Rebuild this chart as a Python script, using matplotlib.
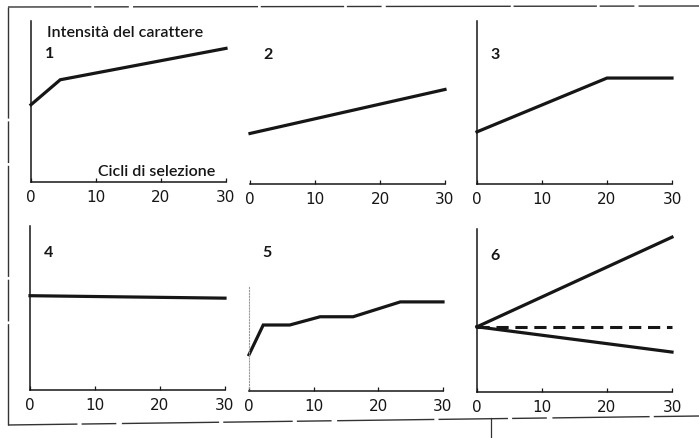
import matplotlib
matplotlib.use("Agg")
import matplotlib.pyplot as plt
from matplotlib.lines import Line2D

# ---- data (relative trait intensity, 0..10 scale) ----
cycles_ticks = [0, 10, 20, 30]
tick_labels = ["0", "10", "20", "30"]

p1_x = [0, 4.5, 30]
p1_y = [4.8, 6.35, 8.3]

p2_x = [0, 30]
p2_y = [3.1, 5.8]

p3_x = [0, 20, 30]
p3_y = [3.2, 6.5, 6.5]

p4_x = [0, 30]
p4_y = [5.75, 5.6]

p5_x = [0, 2.2, 6.3, 11.0, 16.1, 23.4, 30]
p5_y = [2.2, 4.0, 4.0, 4.5, 4.5, 5.4, 5.4]

p6_x = [0, 30]
p6_up = [4.0, 9.5]
p6_flat = [4.0, 4.0]
p6_down = [4.0, 2.45]

panel_labels = ["1", "2", "3", "4", "5", "6"]
ylabel_text = "Intensità del carattere"
xlabel_text = "Cicli di selezione"

W, H = 699, 439
fig = plt.figure(figsize=(W / 100, H / 100), dpi=100)
fig.patch.set_facecolor("white")

def add_ax(x0, x1, ybot, ytop):
    return fig.add_axes([x0 / W, (H - ybot) / H, (x1 - x0) / W, (ybot - ytop) / H])

boxes = [
    (31, 226, 183, 22),
    (250, 445, 185, 22),
    (477, 672, 185, 22),
    (30, 225, 391, 227),
    (249, 443, 392, 227),
    (477, 672, 393, 230),
]
series = [
    [(p1_x, p1_y, "-")],
    [(p2_x, p2_y, "-")],
    [(p3_x, p3_y, "-")],
    [(p4_x, p4_y, "-")],
    [(p5_x, p5_y, "-")],
    [(p6_x, p6_up, "-"), (p6_x, p6_flat, "--"), (p6_x, p6_down, "-")],
]

font = ["Lato", "DejaVu Sans"]
col = "#161616"

for i, (box, ser) in enumerate(zip(boxes, series)):
    ax = add_ax(*box)
    ax.set_xlim(0, 30)
    ax.set_ylim(0, 10)
    ax.patch.set_alpha(0)
    for s in ["top", "right"]:
        ax.spines[s].set_visible(False)
    ax.spines["bottom"].set_linewidth(1.1)
    ax.spines["bottom"].set_color(col)
    if i == 1:
        ax.spines["left"].set_visible(False)
    elif i == 4:
        ax.spines["left"].set_linestyle(":")
        ax.spines["left"].set_color("#999999")
        ax.spines["left"].set_linewidth(0.8)
        ax.spines["left"].set_bounds(0, 6.3)
    else:
        ax.spines["left"].set_linewidth(1.1)
        ax.spines["left"].set_color(col)
    ax.set_xticks(cycles_ticks)
    ax.set_xticklabels(tick_labels)
    ax.set_yticks([])
    ax.tick_params(axis="x", direction="in", length=3, width=0.9, pad=5,
                   labelsize=11, colors=col)
    for lab in ax.get_xticklabels():
        lab.set_family(["DejaVu Sans"])
    for x, y, ls in ser:
        if ls == "--":
            ax.plot(x, y, color=col, lw=2.2, linestyle=(0, (4, 2.2)),
                    solid_capstyle="butt", clip_on=False)
        else:
            ax.plot(x, y, color=col, lw=2.3, solid_joinstyle="miter",
                    clip_on=False)
    ax.text(0.07, 0.80 if i < 3 else 0.84, panel_labels[i], transform=ax.transAxes,
            fontsize=11.5, fontweight="bold", family=font, color=col,
            ha="left", va="center")
    if i == 0:
        ax.text(0.08, 0.93, ylabel_text, transform=ax.transAxes, fontsize=11.5,
                fontweight="semibold", family=font, color=col, ha="left", va="center")
        ax.text(0.945, 0.07, xlabel_text, transform=ax.transAxes, fontsize=11.5,
                fontweight="semibold", family=font, color=col, ha="right", va="center")

# outer (scanned) frame
def fline(xs, ys, **kw):
    fig.add_artist(Line2D([x / W for x in xs], [(H - y) / H for y in ys],
                          transform=fig.transFigure, color="#333333", **kw))

fline([8, 699], [8, 7], lw=1.0, linestyle=(0, (60, 2, 25, 3, 90, 2)))
fline([8, 8], [8, 426], lw=1.0, linestyle=(0, (80, 2, 30, 2)))
fline([8, 699], [426, 417], lw=1.0, linestyle=(0, (50, 3, 25, 4, 70, 3)))
fline([491, 491], [419, 439], lw=0.9)

fig.savefig("out.png", dpi=100, facecolor="white")
